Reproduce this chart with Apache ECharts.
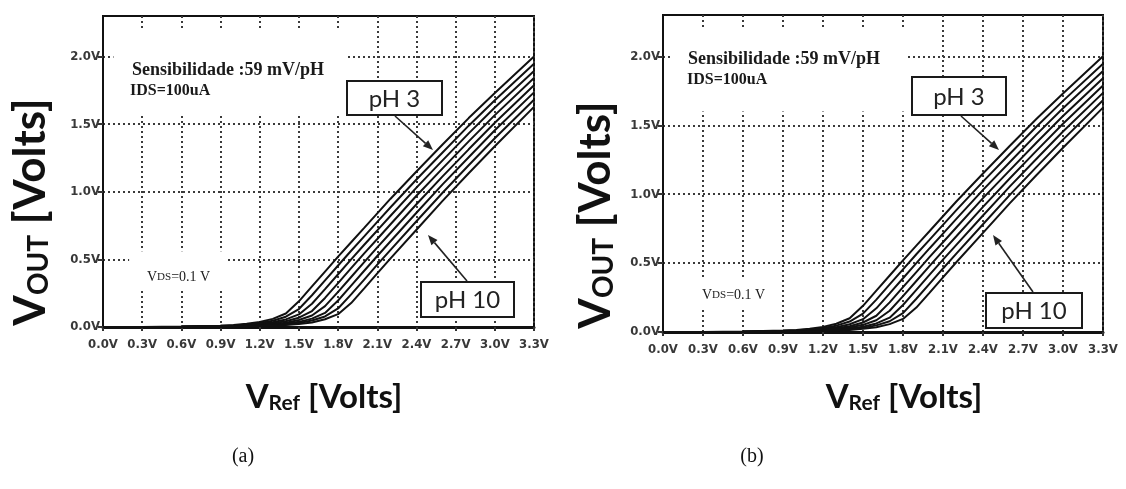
<!DOCTYPE html>
<html><head><meta charset="utf-8">
<script src="https://cdn.jsdelivr.net/npm/echarts@6/dist/echarts.min.js"></script>
<style>html,body{margin:0;padding:0;background:#fff}#c{width:1126px;height:489px}</style>
</head><body><div id="c"></div>
<script>
// ---- data ----
const vref = [0,0.3,0.6,0.9,1.0,1.1,1.2,1.3,1.4,1.5,1.6,1.7,1.8,1.9,2.0,2.1,2.2,2.4,2.6,2.8,3.0,3.3];
const ph3  = [0,0,0.003,0.010,0.015,0.024,0.037,0.060,0.100,0.190,0.300,0.410,0.520,0.627,0.733,0.840,0.947,1.150,1.350,1.545,1.730,2.000];
const ph4  = [0,0,0.002,0.0085,0.012,0.019,0.029,0.046,0.076,0.133,0.235,0.345,0.455,0.564,0.670,0.777,0.884,1.091,1.291,1.489,1.677,1.947];
const ph5  = [0,0,0.0015,0.0065,0.0095,0.014,0.022,0.035,0.056,0.093,0.172,0.280,0.390,0.500,0.608,0.714,0.821,1.031,1.232,1.432,1.623,1.894];
const ph6  = [0,0,0.001,0.005,0.0075,0.011,0.017,0.027,0.042,0.069,0.118,0.215,0.325,0.435,0.545,0.651,0.758,0.971,1.173,1.373,1.567,1.841];
const ph7  = [0,0,0.001,0.0045,0.006,0.009,0.013,0.021,0.032,0.052,0.085,0.154,0.260,0.370,0.480,0.589,0.695,0.908,1.114,1.314,1.511,1.788];
const ph8  = [0,0,0.001,0.003,0.005,0.007,0.010,0.015,0.025,0.038,0.062,0.104,0.196,0.306,0.416,0.525,0.632,0.845,1.055,1.255,1.455,1.735];
const ph9  = [0,0,0.0005,0.002,0.004,0.005,0.008,0.012,0.019,0.030,0.048,0.078,0.137,0.241,0.351,0.461,0.569,0.782,0.993,1.196,1.396,1.681];
const ph10 = [0,0,0.0005,0.0015,0.003,0.005,0.0065,0.0095,0.014,0.023,0.034,0.057,0.095,0.177,0.286,0.396,0.506,0.719,0.933,1.137,1.337,1.628];
const phCurves = [ph3, ph4, ph5, ph6, ph7, ph8, ph9, ph10];

const xTickValues = [0,0.3,0.6,0.9,1.2,1.5,1.8,2.1,2.4,2.7,3.0,3.3];
const xTickLabels = ['0.0V','0.3V','0.6V','0.9V','1.2V','1.5V','1.8V','2.1V','2.4V','2.7V','3.0V','3.3V'];
const yTickValues = [0,0.5,1.0,1.5,2.0];
const yTickLabels = ['0.0V','0.5V','1.0V','1.5V','2.0V'];

const sensText = 'Sensibilidade :59 mV/pH';
const idsText = 'IDS=100uA';
const panelLabels = ['(a)', '(b)'];

// ---- layout ----
const chart = echarts.init(document.getElementById('c'), null, {renderer: 'canvas'});
const grids = [
  {left: 103, top: 16, width: 431, height: 311},
  {left: 663, top: 15, width: 440, height: 317}
];
// white areas behind annotations (data coords)
const masks = [
  [
    [{coord: [0.08, 2.2]}, {coord: [1.87, 1.58]}],
    [{coord: [0.2, 0.56]}, {coord: [0.95, 0.28]}]
  ],
  [
    [{coord: [0.06, 2.2]}, {coord: [1.82, 1.6]}],
    [{coord: [0.25, 0.38]}, {coord: [0.85, 0.18]}]
  ]
];

const tickFont = {fontFamily: "'Liberation Sans Narrow','DejaVu Sans Condensed',sans-serif", fontWeight: 'bold', fontSize: 13, color: '#383838'};
const gridLine = {type: [2, 3], color: '#3a3a3a', width: 2};

function xLabel(v) {
  for (let i = 0; i < xTickValues.length; i++) if (Math.abs(xTickValues[i] - v) < 1e-6) return xTickLabels[i];
  return '';
}
function yLabel(v) {
  for (let i = 0; i < yTickValues.length; i++) if (Math.abs(yTickValues[i] - v) < 1e-6) return yTickLabels[i];
  return '';
}

const xAxes = [0, 1].map(g => ({
  type: 'value', gridIndex: g, min: 0, max: 3.3, interval: 0.3,
  axisLine: {show: true, lineStyle: {color: '#111', width: 3}},
  axisTick: {show: true, length: 4, lineStyle: {color: '#333', width: 2}},
  axisLabel: Object.assign({margin: 11, formatter: xLabel, showMaxLabel: true, showMinLabel: true}, tickFont),
  splitLine: {show: true, lineStyle: gridLine}
}));
const yAxes = [0, 1].map(g => ({
  type: 'value', gridIndex: g, min: 0, max: 2.3, interval: 0.5,
  axisLine: {show: true, lineStyle: {color: '#111', width: 2}},
  axisTick: {show: true, length: 5, customValues: yTickValues, lineStyle: {color: '#333', width: 2}},
  axisLabel: Object.assign({margin: 3, formatter: yLabel, customValues: yTickValues}, tickFont),
  splitLine: {show: true, lineStyle: gridLine}
}));

const series = [];
[0, 1].forEach(c => {
  phCurves.forEach((arr, k) => {
    const s = {
      type: 'line', xAxisIndex: c, yAxisIndex: c, silent: true,
      data: vref.map((x, i) => [x, arr[i]]),
      showSymbol: false, symbol: 'none', smooth: false,
      lineStyle: {color: '#111', width: 2}, z: 3, animation: false
    };
    if (k === 0) {
      s.markArea = {silent: true, itemStyle: {color: '#ffffff', opacity: 1, borderWidth: 0},
        label: {show: false}, emphasis: {disabled: true}, data: masks[c]};
    }
    series.push(s);
  });
});

function arrow(x1, y1, x2, y2) {
  const a = Math.atan2(y2 - y1, x2 - x1), L = 10, W = 4;
  const bx = x2 - L * Math.cos(a), by = y2 - L * Math.sin(a);
  return [
    {type: 'line', z: 100, shape: {x1: x1, y1: y1, x2: bx, y2: by}, style: {stroke: '#222', lineWidth: 1.6}},
    {type: 'polygon', z: 100, shape: {points: [[x2, y2], [bx - W * Math.sin(a), by + W * Math.cos(a)], [bx + W * Math.sin(a), by - W * Math.cos(a)]]}, style: {fill: '#222'}}
  ];
}
function box(x, y, w, h, text) {
  return [
    {type: 'rect', z: 100, shape: {x: x, y: y, width: w, height: h}, style: {fill: '#fff', stroke: '#1a1a1a', lineWidth: 2}},
    {type: 'text', z: 101, x: x + w / 2, y: y + h / 2 + 1, style: {text: text, font: "24px Lato, 'Open Sans', sans-serif", fill: '#222', align: 'center', verticalAlign: 'middle'}}
  ];
}
function yTitle(cx, cy) {
  return {type: 'text', z: 101, x: cx, y: cy, rotation: Math.PI / 2,
    style: {text: '{v|V}{s|OUT}{v| [Volts]}', align: 'center', verticalAlign: 'middle',
      rich: {v: {fontFamily: 'Lato', fontWeight: 'bold', fontSize: 44, lineHeight: 44, verticalAlign: 'bottom', fill: '#111'},
             s: {fontFamily: 'Lato', fontWeight: 'bold', fontSize: 28, lineHeight: 27, verticalAlign: 'bottom', fill: '#111'}}}};
}
function xTitle(cx, cy) {
  return {type: 'text', z: 101, x: cx, y: cy,
    style: {text: '{v|V}{s|Ref}{v| [Volts]}', align: 'center', verticalAlign: 'middle',
      rich: {v: {fontFamily: 'Lato', fontWeight: 'bold', fontSize: 33, lineHeight: 34, verticalAlign: 'bottom', fill: '#111'},
             s: {fontFamily: 'Lato', fontWeight: 'bold', fontSize: 21, lineHeight: 9, verticalAlign: 'bottom', fill: '#111'}}}};
}
function serifText(x, y, text, size) {
  return {type: 'text', z: 101, x: x, y: y, style: {text: text, font: 'bold ' + size + "px 'Liberation Serif', serif", fill: '#1a1a1a', align: 'left', verticalAlign: 'middle'}};
}
function vdsText(x, y) {
  return {type: 'text', z: 101, x: x, y: y, style: {text: '{a|V}{b|DS}{a|=0.1 V}', align: 'left', verticalAlign: 'middle',
    rich: {a: {fontFamily: 'Liberation Serif', fontSize: 14, fill: '#1a1a1a'}, b: {fontFamily: 'Liberation Serif', fontSize: 11, fill: '#1a1a1a'}}}};
}

const graphics = [].concat(
  // panel (a)
  yTitle(31, 212), xTitle(324, 397),
  serifText(132, 70, sensText, 18), serifText(130, 91, idsText, 16), vdsText(147, 277),
  box(347, 81, 95, 34, 'pH 3'), arrow(395, 116, 433, 150),
  box(421, 282, 93, 35, 'pH 10'), arrow(467, 281, 428, 235),
  // panel (b)
  yTitle(596, 215), xTitle(904, 397),
  serifText(688, 59, sensText, 18), serifText(687, 80, idsText, 16), vdsText(702, 295),
  box(912, 77, 94, 38, 'pH 3'), arrow(961, 116, 999, 150),
  box(986, 293, 96, 35, 'pH 10'), arrow(1033, 292, 993, 235),
  // panel letters
  [{type: 'text', z: 101, x: 243, y: 457, style: {text: panelLabels[0], font: "20px 'Liberation Serif', serif", fill: '#111', align: 'center', verticalAlign: 'middle'}},
   {type: 'text', z: 101, x: 752, y: 457, style: {text: panelLabels[1], font: "20px 'Liberation Serif', serif", fill: '#111', align: 'center', verticalAlign: 'middle'}}]
);

chart.setOption({
  animation: false,
  backgroundColor: '#ffffff',
  grid: grids.map(g => Object.assign({show: true, borderColor: '#111', borderWidth: 2, backgroundColor: 'transparent'}, g)),
  xAxis: xAxes,
  yAxis: yAxes,
  series: series,
  graphic: {elements: graphics}
});
</script>
</body></html>
